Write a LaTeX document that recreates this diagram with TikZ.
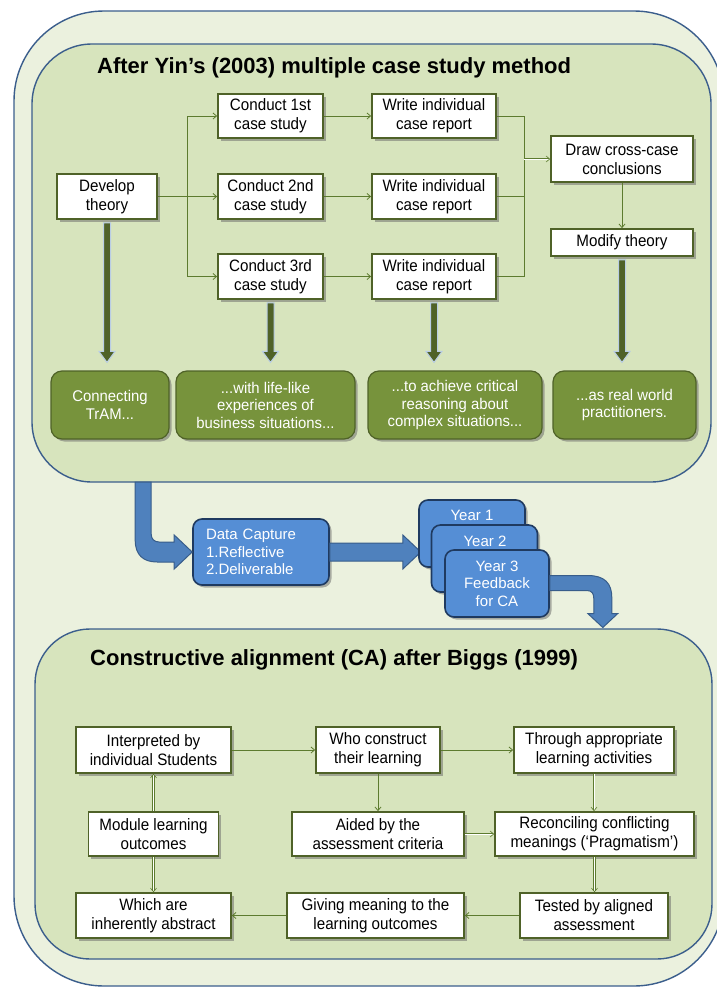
\documentclass[tikz,border=0pt]{standalone}
\usepackage{fontspec}
\setmainfont{Liberation Sans}
\newfontfamily\narrowsans{Liberation Sans}[FakeStretch=0.92,Ligatures=TeX]
\newfontfamily\greensans{Liberation Sans}[FakeStretch=0.96,Ligatures=TeX]
\usetikzlibrary{calc,arrows.meta,shadows}

\definecolor{outerfill}{HTML}{EBF1DE}
\definecolor{panelfill}{HTML}{D7E4BD}
\definecolor{framecol}{HTML}{3B5E8C}
\definecolor{boxline}{HTML}{4F6228}
\definecolor{linkcol}{HTML}{5D7B2F}
\definecolor{greenfill}{HTML}{77933C}
\definecolor{greenline}{HTML}{4F6228}
\definecolor{arrowolive}{HTML}{4F6228}
\definecolor{arrowedge}{HTML}{B9CDE5}
\definecolor{bluefill}{HTML}{558ED5}
\definecolor{blueline}{HTML}{1F3A60}
\definecolor{barrowfill}{HTML}{4F81BD}
\definecolor{barrowline}{HTML}{385D8A}

\newcommand\boxfont{\narrowsans\fontsize{16.5}{19}\selectfont}
\newcommand\greenfont{\greensans\fontsize{15.5}{17.5}\selectfont}
\newcommand\bluefont{\fontsize{15}{17.5}\selectfont}
\newcommand\headfont{\fontsize{22}{26}\selectfont\bfseries}

% thick olive arrow from the bottom of node #1 down to just above node #2
\newcommand\olivedrop[2]{%
  \filldraw[thickarrow]
    ($(#1.south)+(-3.5,3)$)
    -- ($(#1.south |- #2.north)+(-3.5,-19)$)
    -- ($(#1.south |- #2.north)+(-8,-19)$)
    -- ($(#1.south |- #2.north)+(0,-8)$)
    -- ($(#1.south |- #2.north)+(8,-19)$)
    -- ($(#1.south |- #2.north)+(3.5,-19)$)
    -- ($(#1.south)+(3.5,3)$) -- cycle;}

\begin{document}
\begin{tikzpicture}[x=1pt,y=-1pt,
  frame/.style={draw=framecol, line width=1.4pt, fill=outerfill, rounded corners=90pt, inner sep=0pt},
  panel/.style={draw=framecol, line width=1.4pt, fill=panelfill, rounded corners=60pt, inner sep=0pt},
  softshadow/.style={drop shadow={shadow xshift=2.5pt, shadow yshift=-2.5pt, fill=black!60, opacity=0.5}},
  wbox/.style={draw=boxline, line width=1.8pt, fill=white, align=center, inner sep=0pt, font=\boxfont, softshadow},
  gbox/.style={draw=greenline, line width=1.2pt, fill=greenfill, rounded corners=11pt, text=white, align=center, inner sep=0pt, font=\greenfont, softshadow},
  bbox/.style={draw=blueline, line width=1.6pt, fill=bluefill, rounded corners=9pt, text=white, inner sep=0pt, font=\bluefont, softshadow},
  ylabel/.style={text=white, font=\bluefont, inner sep=0pt},
  link/.style={draw=linkcol, line width=0.8pt},
  arr/.style={link, -{Straight Barb[length=3.5pt,width=6pt]}},
  dlink/.style={draw=linkcol, line width=0.6pt, double=white, double distance=1pt},
  darr/.style={dlink, -{Straight Barb[length=3.5pt,width=6pt]}},
  thickarrow/.style={fill=arrowolive, draw=arrowedge, line width=1pt, line join=miter},
  blockarrow/.style={fill=barrowfill, draw=barrowline, line width=1pt},
  heading/.style={anchor=west, font=\headfont, inner sep=0pt}
]
\useasboundingbox (0,0) rectangle (717,988);

% background frame and the two panels
\node[frame, minimum width=710pt, minimum height=975pt] (outer) at (369,498.5) {};
\node[panel, minimum width=679pt, minimum height=438pt] (toppanel) at (371.5,263) {};
\node[panel, rounded corners=55pt, minimum width=677pt, minimum height=330pt] (botpanel) at (373.5,794) {};

\node[heading] (toptitle) at (97,68) {After Yin's (2003) multiple case study method};
\node[heading] (bottitle) at (90,660) {Constructive alignment (CA) after Biggs (1999)};

% ---------------- case study method ----------------
\node[wbox, minimum width=100pt, minimum height=45pt] (dev) at (107,196.5) {Develop\\theory};
\node[wbox, minimum width=105pt, minimum height=44pt] (c1) at (270.5,116) {Conduct 1st\\case study};
\node[wbox, minimum width=105pt, minimum height=45pt] (c2) at (270.5,196.5) {Conduct 2nd\\case study};
\node[wbox, minimum width=105pt, minimum height=45pt] (c3) at (270.5,276.5) {Conduct 3rd\\case study};
\node[wbox, minimum width=124pt, minimum height=44pt] (w1) at (434,116) {Write individual\\case report};
\node[wbox, minimum width=124pt, minimum height=45pt] (w2) at (434,196.5) {Write individual\\case report};
\node[wbox, minimum width=124pt, minimum height=45pt] (w3) at (434,276.5) {Write individual\\case report};
\node[wbox, minimum width=142pt, minimum height=46pt] (cross) at (622,159) {Draw cross-case\\conclusions};
\node[wbox, minimum width=142pt, minimum height=27pt] (mod) at (622,242.5) {Modify theory};

\coordinate (split) at (187,196.5);
\draw[link] (dev.east) -- (split);
\draw[link] (split |- c1.west) -- (split |- c3.west);
\draw[arr] (split |- c1.west) -- (c1.west);
\draw[arr] (split) -- (c2.west);
\draw[arr] (split |- c3.west) -- (c3.west);
\draw[arr] (c1) -- (w1);
\draw[arr] (c2) -- (w2);
\draw[arr] (c3) -- (w3);
\coordinate (merge) at (524,159);
\draw[link] (w1.east) -- (merge |- w1.east) -- (merge |- w3.east) -- (w3.east);
\draw[link] (w2.east) -- (merge |- w2.east);
\draw[darr] (merge) -- (cross.west);
\draw[arr] (cross) -- (mod);

\node[gbox, minimum width=118pt, minimum height=68pt] (g1) at (110,405) {Connecting\\TrAM...};
\node[gbox, minimum width=179pt, minimum height=68pt] (g2) at (265.5,405) {...with life-like\\experiences of\\business situations...};
\node[gbox, minimum width=174pt, minimum height=68pt] (g3) at (455,405) {...to achieve critical\\reasoning about\\complex situations...};
\node[gbox, minimum width=143pt, minimum height=68pt] (g4) at (624.5,405) {...as real world\\practitioners.};

\olivedrop{dev}{g1}
\olivedrop{c3}{g2}
\olivedrop{w3}{g3}
\olivedrop{mod}{g4}

% ---------------- data capture and feedback ----------------
\node[bbox, align=left, text width=110pt, inner xsep=13pt, minimum height=66pt] (data) at (261,552) {Data Capture\\1.Reflective\\2.Deliverable};

% bent arrow from the case study panel into the data capture box
\begin{scope}[shift={(data.west)}]
\filldraw[blockarrow] (-57,-70) -- (-57,-12) .. controls (-57,3) and (-49,10) .. (-35,10)
  -- (-18,10) -- (-18,17) -- (0,0) -- (-18,-17) -- (-18,-10) -- (-33,-10)
  .. controls (-38,-10) and (-41,-13) .. (-41,-18) -- (-41,-70) -- cycle;
\end{scope}

% straight arrow towards the yearly feedback stack
\begin{scope}[shift={(data.east)}]
\filldraw[blockarrow] (0,-9) -- (73,-9) -- (73,-17) -- (91,0) -- (73,17) -- (73,9) -- (0,9) -- cycle;
\end{scope}

\node[bbox, minimum width=106pt, minimum height=67pt] (y1) at (472,533.5) {};
\node[ylabel] (y1text) at (472,515) {Year 1};
\node[bbox, minimum width=106pt, minimum height=67pt] (y2) at (484.5,558.5) {};
\node[ylabel] (y2text) at (485,541) {Year 2};

% bent arrow from the feedback stack down into constructive alignment
\node[bbox, minimum width=104pt, minimum height=67pt, align=center] (y3) at (497,583.5) {Year 3\\Feedback\\for CA};
\begin{scope}[shift={(y3.east)}]
\filldraw[blockarrow] (0,-8) -- (38,-8) .. controls (55,-8) and (62,0) .. (62,14)
  -- (62,30) -- (68,30) -- (53,44) -- (38,30) -- (44,30) -- (44,15)
  .. controls (44,10) and (42,7) .. (37,7) -- (0,7) -- cycle;
\end{scope}

% ---------------- constructive alignment ----------------
\node[wbox, minimum width=155pt, minimum height=46pt] (interp) at (153.5,750) {Interpreted by\\individual Students};
\node[wbox, minimum width=124pt, minimum height=46pt] (who) at (378,750) {Who construct\\their learning};
\node[wbox, minimum width=160pt, minimum height=46pt] (thru) at (594,750) {Through appropriate\\learning activities};
\node[wbox, minimum width=130pt, minimum height=44pt] (module) at (153.5,834) {Module learning\\outcomes};
\node[wbox, minimum width=172pt, minimum height=44pt] (aided) at (378,834) {Aided by the\\assessment criteria};
\node[wbox, minimum width=199pt, minimum height=44pt] (recon) at (594.5,834) {Reconciling conflicting\\meanings (‘Pragmatism’)};
\node[wbox, minimum width=155pt, minimum height=45pt] (which) at (153.5,915.5) {Which are\\inherently abstract};
\node[wbox, minimum width=177pt, minimum height=45pt] (giving) at (375.5,915.5) {Giving meaning to the\\learning outcomes};
\node[wbox, minimum width=148pt, minimum height=45pt] (tested) at (594,915.5) {Tested by aligned\\assessment};

\draw[arr] (interp) -- (who);
\draw[arr] (who) -- (thru);
\draw[arr] (who) -- (aided);
\draw[darr] (thru.south) -- (thru.south |- recon.north);
\draw[darr] (aided) -- (recon);
\draw[darr] (recon.south) -- (recon.south |- tested.north);
\draw[arr] (tested) -- (giving);
\draw[arr] (giving) -- (which);
\draw[darr] (module.north) -- (module.north |- interp.south);
\draw[darr] (module.south) -- (module.south |- which.north);
\end{tikzpicture}
\end{document}
